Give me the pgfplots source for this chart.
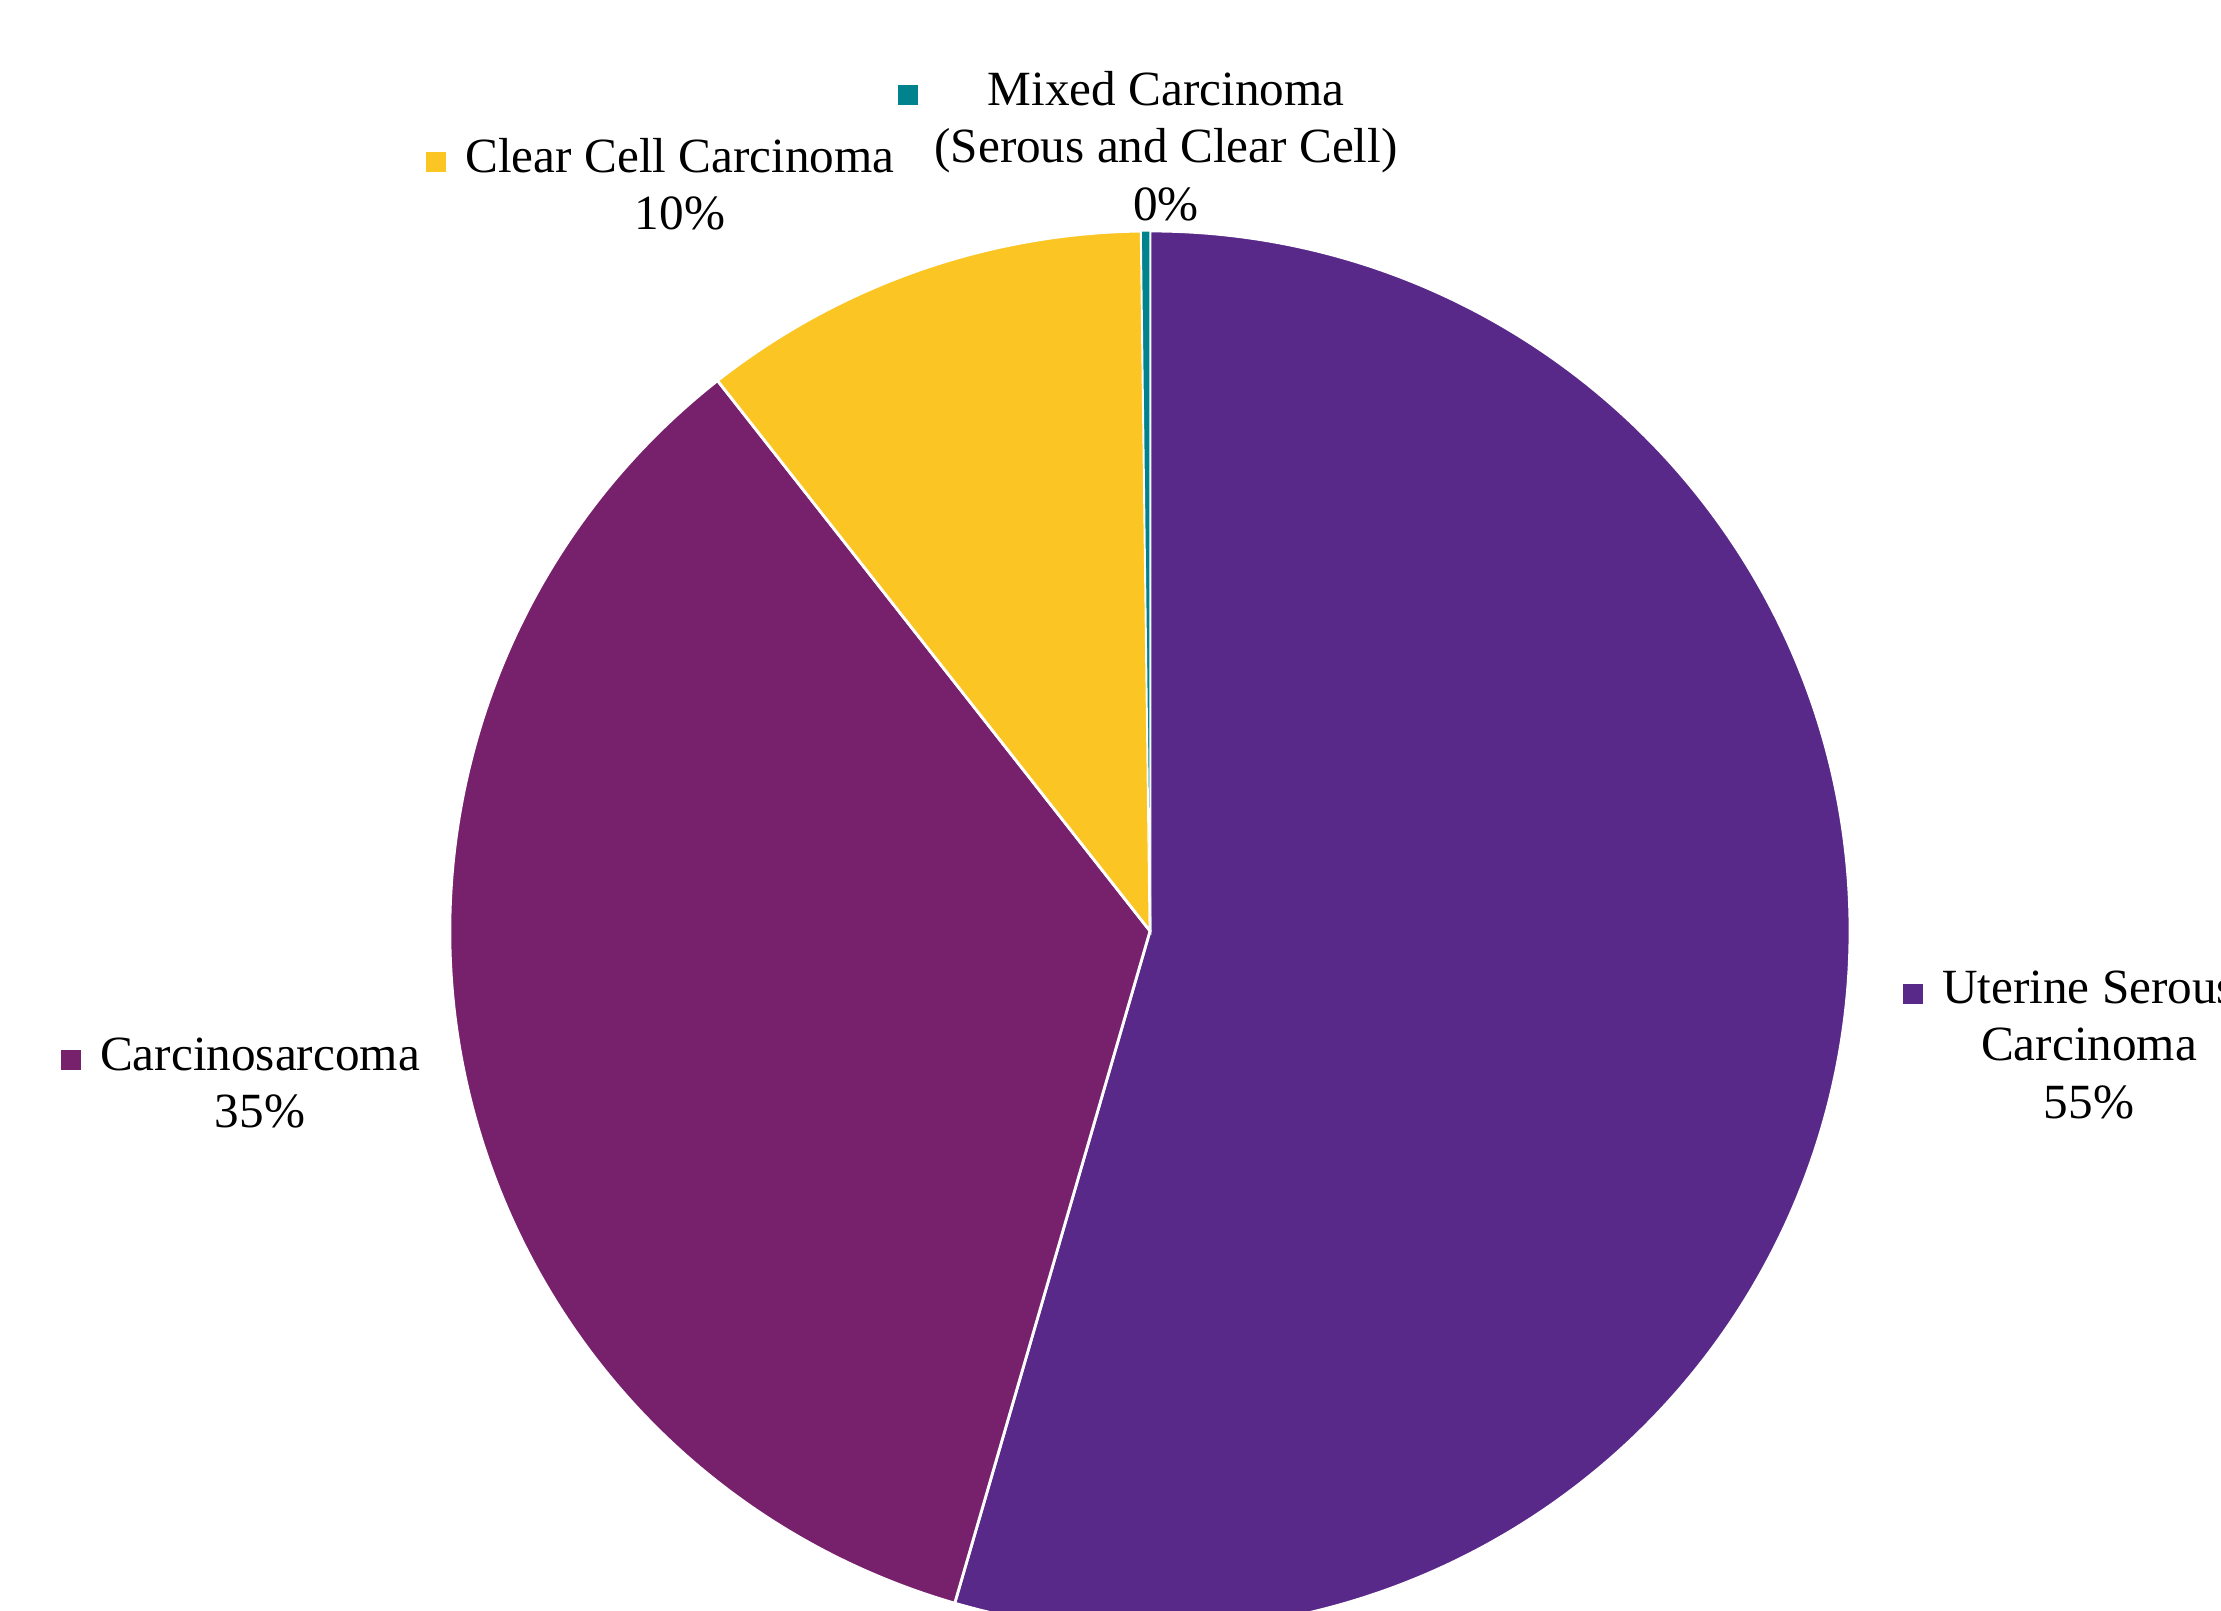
\documentclass[border=0pt]{standalone}
\usepackage{pgfplots}
\usepackage{pgfplotstable}
\pgfplotsset{compat=1.18}
\usepackage{fontspec}
\setmainfont{Liberation Serif}
\definecolor{serous}{HTML}{59298A}
\definecolor{carcino}{HTML}{77216D}
\definecolor{clearcell}{HTML}{FBC623}
\definecolor{mixed}{HTML}{00838C}
\pgfplotstableread{
label value
UterineSerous 54.5
Carcinosarcoma 34.9
ClearCell 10.4
Mixed 0.2
}\piedata
\newcommand{\keybox}[3]{\llap{\textcolor{#1}{\rule{#2}{#2}}\hspace{#3}}}
\begin{document}
\begin{tikzpicture}
\useasboundingbox (0,0) rectangle (22.21cm,16.10cm);
\pgfplotstablegetelem{0}{value}\of\piedata \let\vA\pgfplotsretval
\pgfplotstablegetelem{1}{value}\of\piedata \let\vB\pgfplotsretval
\pgfplotstablegetelem{2}{value}\of\piedata \let\vC\pgfplotsretval
\pgfplotstablegetelem{3}{value}\of\piedata \let\vD\pgfplotsretval
\pgfmathsetmacro\aA{90}
\pgfmathsetmacro\aB{\aA-3.6*\vA}
\pgfmathsetmacro\aC{\aB-3.6*\vB}
\pgfmathsetmacro\aD{\aC-3.6*\vC}
\pgfmathsetmacro\aE{\aD-3.6*\vD}
\begin{axis}[
  at={(0,0)}, anchor=south west,
  scale only axis, width=22.21cm, height=16.10cm,
  xmin=0, xmax=2221, ymin=0, ymax=1610,
  hide axis, clip=true,
]
\fill[serous, draw=white, line width=0.8pt] (axis cs:1150,679) -- ++(\aA:7cm) arc[start angle=\aA, end angle=\aB, radius=7cm] -- cycle;
\fill[carcino, draw=white, line width=0.8pt] (axis cs:1150,679) -- ++(\aB:7cm) arc[start angle=\aB, end angle=\aC, radius=7cm] -- cycle;
\fill[clearcell, draw=white, line width=0.8pt] (axis cs:1150,679) -- ++(\aC:7cm) arc[start angle=\aC, end angle=\aD, radius=7cm] -- cycle;
\fill[mixed, draw=white, line width=0.3pt] (axis cs:1150,679) -- ++(\aD:7cm) arc[start angle=\aD, end angle=\aE, radius=7cm] -- cycle;
% labels
\node[align=center, font=\fontsize{14}{16.3}\selectfont] at (axis cs:1166,1464)
  {\keybox{mixed}{0.2cm}{0.7cm}Mixed Carcinoma\\(Serous and Clear Cell)\\0\%};
\node[align=center, font=\fontsize{14}{16.3}\selectfont] at (axis cs:680,1426)
  {\keybox{clearcell}{0.2cm}{0.19cm}Clear Cell Carcinoma\\10\%};
\node[align=center, font=\fontsize{14}{16.3}\selectfont] at (axis cs:260,527)
  {\keybox{carcino}{0.2cm}{0.19cm}Carcinosarcoma\\35\%};
\node[align=center, font=\fontsize{14}{16.3}\selectfont] at (axis cs:2089,565)
  {\keybox{serous}{0.2cm}{0.19cm}Uterine Serous\\Carcinoma\\55\%};
\end{axis}
\end{tikzpicture}
\end{document}
